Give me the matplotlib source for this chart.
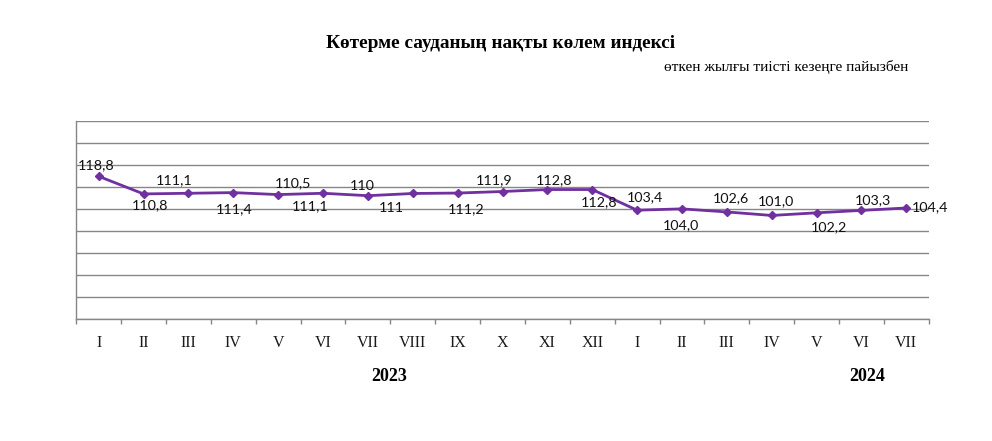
import numpy as np
import matplotlib
matplotlib.use("Agg")
import matplotlib.pyplot as plt
import matplotlib.transforms as mtransforms

months = ["I", "II", "III", "IV", "V", "VI", "VII", "VIII", "IX", "X", "XI", "XII",
          "I", "II", "III", "IV", "V", "VI", "VII"]
values = [118.8, 110.8, 111.1, 111.4, 110.5, 111.1, 110.0, 111.0, 111.2, 111.9, 112.8, 112.8,
          103.4, 104.0, 102.6, 101.0, 102.2, 103.3, 104.4]
label_texts = ["118,8", "110,8", "111,1", "111,4", "110,5", "111,1", "110", "111", "111,2",
               "111,9", "112,8", "112,8", "103,4", "104,0", "102,6", "101,0", "102,2",
               "103,3", "104,4"]
years = ["2023", "2024"]

title = "Көтерме сауданың нақты көлем индексі"
subtitle = "өткен жылғы тиісті кезеңге пайызбен"

# label offsets in pixels (dx, dy up), layout only
label_offsets = [(-3, 10.7), (6.7, -11), (-14.4, 13.3), (0.6, -16.6), (14.7, 11),
                 (-12.5, -13), (-6, 9.7), (-21, -14.3), (8.5, -16.3), (-8, 11.3),
                 (6.7, 9.7), (6.8, -13), (7.7, 12.7), (-1.5, -16.3), (4.3, 13.7),
                 (4.5, 14.6), (12.7, -14.3), (11.3, 10.7), (23.5, 1)]

W, H, DPI = 992, 441, 100
fig = plt.figure(figsize=(W / DPI, H / DPI), dpi=DPI)
fig.patch.set_facecolor("white")

left, right, top, bottom = 76.3, 928.7, 121.0, 318.7
ax = fig.add_axes([left / W, 1 - bottom / H, (right - left) / W, (bottom - top) / H])

grid_col = "#868686"
line_col = "#7030A0"
serif = ["Liberation Serif", "DejaVu Serif"]

x = np.arange(len(values))
ax.plot(x, values, color=line_col, lw=2.0, marker="D", ms=4.2, mec=line_col, mfc=line_col,
        zorder=3, solid_joinstyle="round")

ax.set_xlim(-0.5, len(values) - 0.5)
ax.set_ylim(54, 144)
ax.set_yticks(np.arange(54, 145, 10))
ax.yaxis.grid(True, color=grid_col, lw=1.0)
ax.set_axisbelow(True)
ax.tick_params(axis="y", length=0, labelleft=False)

ax.set_xticks(np.arange(-0.5, len(values)), minor=False)
ax.set_xticklabels([])
ax.tick_params(axis="x", which="major", direction="out", length=3.6, width=1.0, color=grid_col)
ax.set_xticks(x, minor=True)
ax.set_xticklabels(months, minor=True, fontfamily=serif, fontsize=11.5, color="#1a1a1a")
ax.tick_params(axis="x", which="minor", length=0, pad=11.5)

for s in ["top", "right"]:
    ax.spines[s].set_visible(False)
for s in ["left", "bottom"]:
    ax.spines[s].set_color(grid_col)
    ax.spines[s].set_linewidth(1.0)

for i, (v, t) in enumerate(zip(values, label_texts)):
    dx, dy = label_offsets[i]
    ax.annotate(t, (x[i], v), xytext=(dx * 72 / DPI, dy * 72 / DPI), textcoords="offset points",
                ha="center", va="center", fontsize=10.3, fontfamily=["Lato", "DejaVu Sans"],
                color="#111111", zorder=4)

trans = mtransforms.blended_transform_factory(ax.transData, ax.transAxes)
year_x = [6.48, 17.14]
for xx, yy in zip(year_x, years):
    ax.text(xx, -0.293, yy, transform=trans, ha="center", va="center",
            fontfamily=serif, fontweight="bold", fontsize=13)

fig.text(501 / W, 1 - 43 / H, title, ha="center", va="center", fontfamily=serif,
         fontweight="bold", fontsize=13.9)
fig.text(786 / W, 1 - 67 / H, subtitle, ha="center", va="center", fontfamily=serif,
         fontsize=11)

fig.savefig("out.png", dpi=DPI, facecolor="white")
